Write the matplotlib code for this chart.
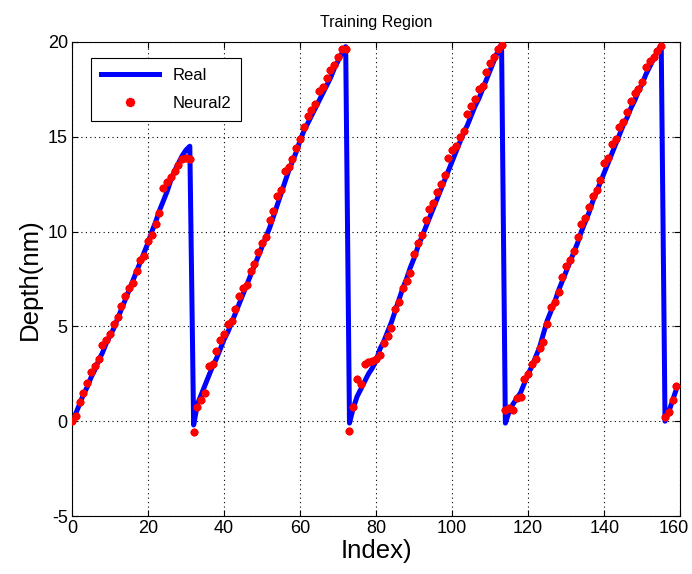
import matplotlib
matplotlib.use("Agg")
import matplotlib.pyplot as plt
import matplotlib.transforms as mtransforms
import numpy as np

plt.rcParams['font.family'] = ['Liberation Sans', 'DejaVu Sans']
plt.rcParams['axes.unicode_minus'] = False

# Sample index (one sample per step)
index = np.arange(160)

# Measured depth, nm
real_depth = [
    # ramp 1
    0.0, 0.4, 0.9, 1.4, 1.8, 2.3, 2.7, 3.2, 3.6, 4.1,
    4.5, 4.9, 5.4, 5.9, 6.4, 6.9, 7.4, 7.9, 8.4, 8.9,
    9.4, 10.0, 10.5, 11.1, 11.6, 12.1, 12.7, 13.2, 13.6, 14.0,
    14.3, 14.5,
    # ramp 2
    -0.2, 0.9, 1.4, 1.9, 2.4, 2.9, 3.3, 3.8, 4.3, 4.7,
    5.2, 5.7, 6.2, 6.7, 7.2, 7.7, 8.2, 8.7, 9.2, 9.7,
    10.2, 10.8, 11.4, 12.0, 12.6, 13.2, 13.7, 14.2, 14.8, 15.3,
    15.7, 16.1, 16.5, 16.9, 17.3, 17.7, 18.1, 18.6, 19.0, 19.4,
    19.75,
    # ramp 3
    -0.1, 0.7, 1.3, 1.7, 2.1, 2.5, 2.8, 3.2, 3.8, 4.2,
    4.7, 5.2, 5.8, 6.4, 7.0, 7.5, 8.1, 8.6, 9.2, 9.7,
    10.2, 10.7, 11.2, 11.7, 12.2, 12.7, 13.2, 13.7, 14.2, 14.7,
    15.2, 15.6, 16.1, 16.6, 17.0, 17.5, 18.0, 18.5, 19.0, 19.5,
    19.9,
    # ramp 4
    -0.1, 0.5, 0.9, 1.2, 1.5, 2.0, 2.5, 2.9, 3.4, 3.9,
    4.6, 5.3, 5.8, 6.3, 6.9, 7.4, 7.9, 8.4, 8.9, 9.4,
    10.0, 10.5, 11.0, 11.6, 12.1, 12.6, 13.1, 13.6, 14.1, 14.6,
    15.1, 15.6, 16.0, 16.5, 16.9, 17.4, 17.8, 18.3, 18.7, 19.1,
    19.5, 19.85,
    # ramp 5
    0.0, 0.5, 1.1, 1.7,
]

# Network estimate, nm
neural_depth = [
    # ramp 1
    0.0, 0.3, 1.0, 1.5, 2.0, 2.6, 2.9, 3.3, 4.0, 4.3,
    4.6, 5.1, 5.5, 6.1, 6.6, 7.0, 7.3, 7.9, 8.5, 8.7,
    9.5, 9.8, 10.4, 11.0, 12.3, 12.6, 12.9, 13.2, 13.5, 13.8,
    13.9, 13.8,
    # ramp 2
    -0.55, 0.75, 1.1, 1.5, 2.9, 3.0, 3.7, 4.3, 4.6, 5.1,
    5.3, 5.9, 6.6, 7.0, 7.2, 7.9, 8.3, 8.9, 9.4, 9.7,
    10.6, 11.1, 11.9, 12.2, 13.2, 13.4, 13.8, 14.4, 14.9, 15.5,
    16.1, 16.4, 16.7, 17.4, 17.6, 18.1, 18.5, 18.8, 19.2, 19.6,
    19.6,
    # ramp 3
    -0.5, 0.75, 2.2, 1.95, 3.0, 3.1, 3.2, 3.3, 3.5, 4.1,
    4.5, 4.9, 5.9, 6.3, 7.0, 7.4, 7.8, 8.8, 9.4, 9.8,
    10.6, 11.2, 11.5, 12.1, 12.5, 13.0, 13.9, 14.3, 14.5, 15.0,
    15.3, 16.2, 16.6, 17.0, 17.5, 17.7, 18.4, 18.9, 19.2, 19.6,
    19.85,
    # ramp 4
    0.6, 0.7, 0.6, 1.2, 1.3, 2.2, 2.5, 3.0, 3.3, 3.85,
    4.2, 5.1, 6.0, 6.3, 6.8, 7.6, 8.2, 8.5, 9.0, 9.7,
    10.4, 10.7, 11.3, 11.9, 12.2, 12.7, 13.6, 13.9, 14.6, 14.9,
    15.5, 15.8, 16.3, 16.9, 17.3, 17.5, 17.9, 18.7, 19.0, 19.2,
    19.5, 19.8,
    # ramp 5
    0.2, 0.5, 1.1, 1.85,
]

x_ticks = [0, 20, 40, 60, 80, 100, 120, 140, 160]
y_ticks = [-5, 0, 5, 10, 15, 20]

fig = plt.figure(figsize=(6.92, 5.74), dpi=100)
ax = fig.add_axes([0.104, 0.101, 0.879, 0.826])

ax.plot(index, real_depth, color=(0, 0, 1), linewidth=3.6, label='Real', zorder=2)
ax.plot(index, neural_depth, linestyle='none', marker=(8, 2, 0), markersize=5.5,
        markeredgewidth=1.8, color=(1, 0, 0), label='Neural2', zorder=3)

ax.set_xlim(0, 160)
ax.set_ylim(-5, 20)
ax.set_xticks(x_ticks)
ax.set_yticks(y_ticks)
ax.tick_params(direction='in', length=4, width=0.8, top=True, right=True,
               labelsize=13, pad=3)
ax.grid(True, linestyle=(0, (1, 3)), color='black', linewidth=0.8)
for s in ax.spines.values():
    s.set_linewidth(0.8)

# keep the last x tick label inside the figure edge
fig.canvas.draw()
last_label = ax.get_xticklabels()[-1]
last_label.set_transform(last_label.get_transform() +
                         mtransforms.ScaledTranslation(-6 / 100, 0, fig.dpi_scale_trans))

ax.set_title('Training Region', fontsize=11.5, pad=11)
ax.set_xlabel('Index)', fontsize=18.5, labelpad=1)
ax.set_ylabel('Depth(nm)', fontsize=18.5, labelpad=4)

leg = ax.legend(loc='upper left', bbox_to_anchor=(0.031, 0.966), borderaxespad=0,
                fontsize=12, frameon=True, fancybox=False, framealpha=1,
                edgecolor='black', handlelength=3.5, borderpad=0.6,
                labelspacing=0.75, markerscale=1.2)
leg.get_frame().set_linewidth(0.8)

fig.savefig('out.png', dpi=100)
